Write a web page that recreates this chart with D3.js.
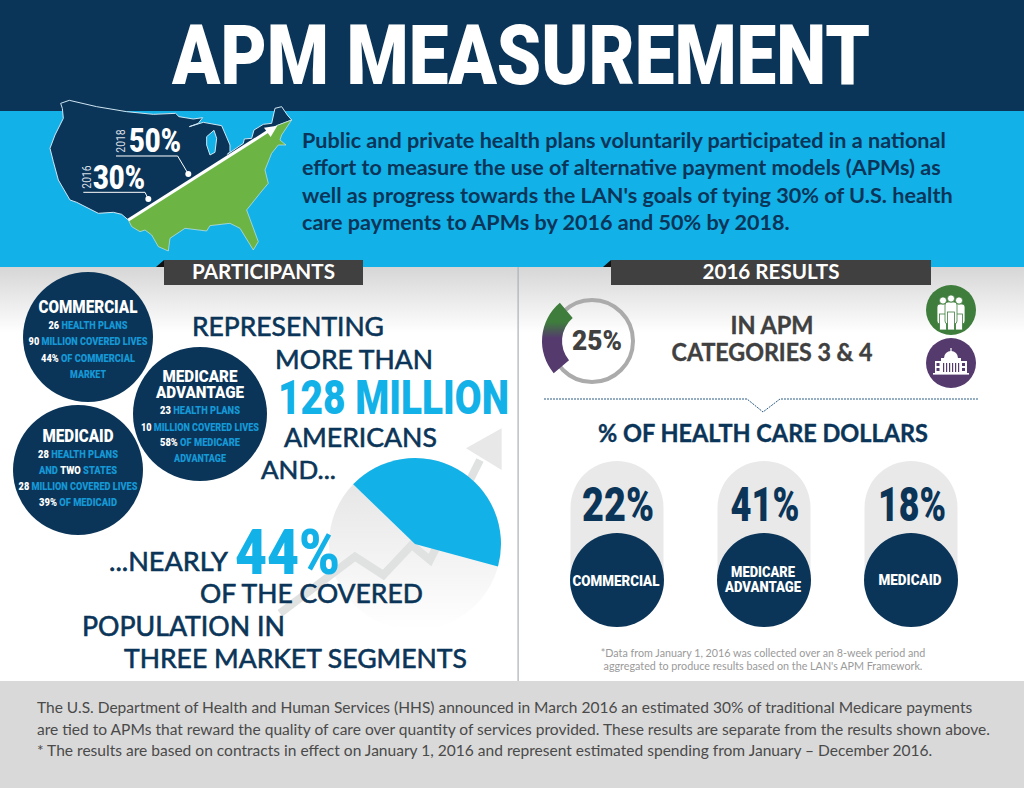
<!DOCTYPE html>
<html>

<head>
    <meta charset="utf-8">
    <style>
        body {
            margin: 0;
            background: #fff;
        }

        svg {
            display: block;
        }
    </style>
</head>

<body>
    <svg width="1024" height="788"></svg>
</body>

<script src="https://d3js.org/d3.v7.min.js"></script>

<script>
    // values
    let segments = ["COMMERCIAL", "MEDICARE ADVANTAGE", "MEDICAID"];
    let dollarShares = [22, 41, 18];
    let coveredLabel = 44;
    let pieShares = [42, 58]; // the slice as drawn is a bit smaller than its label
    let apmShare = [25, 75];
    let goalYears = ["2016", "2018"];
    let goalValues = [30, 50];

    let introLines = [
        "Public and private health plans voluntarily participated in a national",
        "effort to measure the use of alternative payment models (APMs) as",
        "well as progress towards the LAN's goals of tying 30% of U.S. health",
        "care payments to APMs by 2016 and 50% by 2018."
    ];
    let footerLines = [
        "The U.S. Department of Health and Human Services (HHS) announced in March 2016 an estimated 30% of traditional Medicare payments",
        "are tied to APMs that reward the quality of care over quantity of services provided. These results are separate from the results shown above.",
        "* The results are based on contracts in effect on January 1, 2016 and represent estimated spending from January – December 2016."
    ];
    let footnoteLines = [
        "*Data from January 1, 2016 was collected over an 8-week period and",
        "aggregated to produce results based on the LAN's APM Framework."
    ];
    let commercialLines = [["26", " HEALTH PLANS"], ["90", " MILLION COVERED LIVES"], ["44%", " OF COMMERCIAL"], ["", "MARKET"]];
    let medicareLines = [["23", " HEALTH PLANS"], ["10", " MILLION COVERED LIVES"], ["58%", " OF MEDICARE"], ["", "ADVANTAGE"]];
    let medicaidLines = [["28", " HEALTH PLANS"], ["", "AND ", "TWO", " STATES"], ["28", " MILLION COVERED LIVES"], ["39%", " OF MEDICAID"]];

    let navy = "#0b3558";
    let sky = "#12b1e8";
    let cond = "Roboto, sans-serif";
    let lato = "Lato, sans-serif";

    let svg = d3.select("svg");
    let defs = svg.append("defs");

    //squeeze or stretch a text to the width it has in the reference
    function label(parent, parts, x, y, size, opts) {
        let o = Object.assign({ family: cond, weight: 900, anchor: "middle", fill: navy, heavy: 0 }, opts);
        let t = parent.append("text")
            .attr("text-anchor", o.anchor)
            .style("font-family", o.family)
            .style("font-weight", o.weight)
            .style("font-size", size + "px");
        if (typeof parts == "string") parts = [[parts, o.fill]];
        parts.forEach(function (p) {
            t.append("tspan").attr("fill", p[1]).text(p[0]);
        });
        t.style("white-space", "pre");
        if (o.heavy) t.attr("stroke", o.fill).attr("stroke-width", o.heavy);
        let sx = o.width ? o.width / t.node().getComputedTextLength() : 1;
        t.attr("transform", `translate(${x},${y}) scale(${sx},1)`);
        return t;
    }

    function band(x, y, w, h, fill) {
        return svg.append("rect").attr("x", x).attr("y", y).attr("width", w).attr("height", h).attr("fill", fill);
    }

    //backgrounds
    let fade = defs.append("linearGradient").attr("id", "fade").attr("x1", 0).attr("x2", 0).attr("y1", 0).attr("y2", 1);
    fade.append("stop").attr("offset", 0).attr("stop-color", "#d6d6d6");
    fade.append("stop").attr("offset", 1).attr("stop-color", "#fff");

    band(0, 0, 1024, 111, navy);
    band(0, 111, 1024, 157, sky);
    band(0, 267, 1024, 66, "url(#fade)");
    band(0, 681, 1024, 107, "#d9d9d9");
    band(517.5, 267, 1.2, 414, "#a9b2ba");

    label(svg, "APM MEASUREMENT", 521, 84, 84, { width: 698, fill: "#fff" });

    //the map is only an illustration, outline traced in zoomed pixels
    let upperOutline = [[92, 25], [118, 16], [200, 35], [290, 50], [370, 58], [437, 55], [447, 65], [490, 72], [518, 68], [505, 85], [478, 95], [520, 82], [575, 92], [582, 108], [600, 150], [600, 170], [592, 178], [640, 145], [643, 132], [665, 130], [672, 105], [700, 88], [725, 85], [735, 40], [755, 35], [772, 60], [785, 75], [740, 92], [295, 375], [275, 358], [250, 352], [205, 355], [140, 322], [120, 315], [85, 255], [70, 200], [60, 160], [75, 120], [100, 70], [97, 40]];
    let lowerOutline = [[740, 92], [785, 75], [755, 120], [750, 135], [768, 150], [745, 150], [725, 175], [705, 225], [715, 265], [690, 295], [650, 345], [685, 440], [670, 465], [630, 400], [600, 385], [540, 392], [530, 408], [465, 400], [420, 430], [415, 468], [385, 455], [365, 420], [345, 405], [330, 410], [305, 395], [295, 375]];
    let lakeOutline = [[530, 125], [552, 106], [560, 130], [555, 172], [540, 180], [530, 150]];

    let closed = d3.line().curve(d3.curveLinearClosed);
    let map = svg.append("g").attr("transform", "translate(30,95) scale(0.3333)");

    map.append("path").attr("d", closed(upperOutline)).attr("fill", navy).attr("stroke", "#cfe6f2").attr("stroke-width", 3);
    map.append("path").attr("d", closed(lakeOutline)).attr("fill", sky).attr("stroke", "#cfe6f2").attr("stroke-width", 3);
    map.append("path").attr("d", closed(lowerOutline)).attr("fill", "#6cb545").attr("stroke", "#cfe6f2").attr("stroke-width", 2);
    map.append("path").attr("d", d3.line()([[295, 375], [728, 100]])).attr("stroke", "#fff").attr("stroke-width", 9);
    map.append("path").attr("d", closed([[742, 92], [702, 98], [722, 126]])).attr("fill", "#fff");

    let calloutPaths = [[[160, 292], [345, 292], [355, 312]], [[258, 183], [443, 183], [475, 237]]];
    calloutPaths.forEach(function (c) {
        map.append("path").attr("d", d3.line()(c)).attr("fill", "none").attr("stroke", "#fff").attr("stroke-width", 3);
        map.append("circle").attr("cx", c[2][0]).attr("cy", c[2][1]).attr("r", 9).attr("fill", "#fff");
    });

    label(svg, goalValues[0] + "%", 119, 189, 33, { width: 52, fill: "#fff" });
    label(svg, goalValues[1] + "%", 155, 152, 34, { width: 52, fill: "#fff" });
    label(svg, goalYears[0], 0, 0, 13, { fill: "#d9dee3", weight: 400 })
        .attr("transform", "translate(91,177) rotate(-90) scale(0.8,1)");
    label(svg, goalYears[1], 0, 0, 13, { fill: "#d9dee3", weight: 400 })
        .attr("transform", "translate(125,141) rotate(-90) scale(0.8,1)");

    let introWidths = [644, 639, 651, 488];
    let introBase = [148, 175, 203, 230];
    introLines.forEach(function (l, i) {
        label(svg, l, 302, introBase[i], 20, { family: lato, weight: 700, anchor: "start", width: introWidths[i] });
    });

    //ribbons
    function ribbon(x, w, text, tw) {
        svg.append("path").attr("d", d3.line()([[x - 8, 267], [x, 260], [x, 267]])).attr("fill", "#111");
        band(x, 260, w, 25, "#404040");
        label(svg, text, x + w / 2, 279, 20, { family: lato, weight: 700, fill: "#fff", width: tw });
    }
    ribbon(164, 199, "PARTICIPANTS", 143);
    ribbon(611, 320, "2016 RESULTS", 137);

    //participant circles
    function bubble(cx, cy, r, title, titleSize, titleBase, titleWidths, lines, base, widths) {
        svg.append("circle").attr("cx", cx).attr("cy", cy).attr("r", r).attr("fill", navy);
        title.forEach(function (t, i) {
            label(svg, t, cx, titleBase[i], titleSize, { fill: "#fff", width: titleWidths[i] });
        });
        lines.forEach(function (l, i) {
            let parts = l.map(function (s, k) {
                return [s, k % 2 == 0 ? "#fff" : "#1598d6"];
            });
            //a line that starts with an empty string starts in blue
            if (l[0] === "") parts = l.slice(1).map(function (s, k) {
                return [s, k % 2 == 0 ? "#1598d6" : "#fff"];
            });
            label(svg, parts, cx, base[i], 11.5, { width: widths[i] });
        });
    }

    bubble(88, 337, 65, ["COMMERCIAL"], 18, [313], [99], commercialLines, [329, 345, 362, 378], [79, 119, 94, 36]);
    bubble(78, 470, 65, ["MEDICAID"], 18, [442], [71], medicaidLines, [458, 474, 490, 506], [80, 78, 119, 78]);
    bubble(200, 414, 67, ["MEDICARE", "ADVANTAGE"], 16.5, [382, 398], [75, 88], medicareLines, [414, 431, 446, 462], [80, 118, 80, 52]);

    //pie behind the text, drawn before the words
    let pieFade = defs.append("linearGradient").attr("id", "pieFade").attr("x1", 0).attr("x2", 0).attr("y1", 0).attr("y2", 1);
    pieFade.append("stop").attr("offset", 0).attr("stop-color", "#e2e2e2");
    pieFade.append("stop").attr("offset", 1).attr("stop-color", "#fff");

    let pieGroup = svg.append("g").attr("transform", "translate(415,544)");
    pieGroup.append("circle").attr("r", 86).attr("fill", "url(#pieFade)");

    //zigzag growth arrow, zoomed pixels again
    let trend = [[60, 640], [285, 470], [370, 525], [455, 435], [510, 480], [660, 180]];
    let trendGroup = svg.append("g").attr("transform", "translate(260,400) scale(0.3333)");
    trendGroup.append("path").attr("d", d3.line()(trend)).attr("fill", "none").attr("stroke", "#e0e1e1").attr("stroke-width", 24);
    trendGroup.append("path").attr("d", closed([[725, 85], [618, 145], [725, 210]])).attr("fill", "#e8e8e8");

    let pie = d3.pie().sort(null).startAngle(-46 * Math.PI / 180).endAngle(314 * Math.PI / 180);
    let pieArc = d3.arc().innerRadius(0).outerRadius(86);
    svg.append("g").attr("transform", "translate(415,544)")
        .append("path")
        .attr("d", pieArc(pie(pieShares)[0]))
        .attr("fill", sky);

    let leftWords = [
        ["REPRESENTING", 192, 336, 192],
        ["MORE THAN", 275, 369, 158],
        ["AMERICANS", 284, 447, 153],
        ["AND...", 261, 479, 75],
        ["...NEARLY", 109, 571, 119],
        ["OF THE COVERED", 200, 603, 223],
        ["POPULATION IN", 82, 636, 203],
        ["THREE MARKET SEGMENTS", 124, 668, 343]
    ];
    leftWords.forEach(function (w) {
        label(svg, w[0], w[1], w[2], 26, { family: lato, weight: 400, heavy: .6, anchor: "start", width: w[3] });
    });
    label(svg, "128 MILLION", 278, 414, 48, { anchor: "start", width: 231, fill: sky });
    label(svg, coveredLabel + "%", 235, 574, 62, { anchor: "start", width: 105, fill: sky });

    //25% ring
    let ringGrad = defs.append("linearGradient").attr("id", "ringGrad")
        .attr("gradientUnits", "userSpaceOnUse").attr("x1", 0).attr("x2", 0).attr("y1", -39).attr("y2", 33);
    ringGrad.append("stop").attr("offset", .28).attr("stop-color", "#3e7d3c");
    ringGrad.append("stop").attr("offset", .5).attr("stop-color", "#553a6e");

    svg.append("circle").attr("cx", 592).attr("cy", 341).attr("r", 41).attr("fill", "none").attr("stroke", "#ababab").attr("stroke-width", 4);

    let ringPie = d3.pie().sort(null).startAngle(-130 * Math.PI / 180).endAngle(230 * Math.PI / 180);
    let ringArc = d3.arc().innerRadius(30).outerRadius(50);
    svg.append("g").attr("transform", "translate(592,341)")
        .append("path")
        .attr("d", ringArc(ringPie(apmShare)[0]))
        .attr("fill", "url(#ringGrad)");

    label(svg, apmShare[0] + "%", 597, 350, 28, { width: 50, fill: "#404040" });
    label(svg, "IN APM", 772, 334, 24, { family: lato, weight: 700, heavy: .4, width: 83, fill: "#404040" });
    label(svg, "CATEGORIES 3 & 4", 772, 361, 24, { family: lato, weight: 700, heavy: .4, width: 201, fill: "#404040" });

    //people icon
    svg.append("circle").attr("cx", 951).attr("cy", 310).attr("r", 25).attr("fill", "#3e7d3c");
    let people = svg.append("g").attr("fill", "#fff").attr("stroke", "#3e7d3c").attr("stroke-width", .8);
    [[943, 12], [959, 12], [951, 14]].forEach(function (p) {
        let top = 298 + (p[1] == 14 ? -2 : 0);
        people.append("rect").attr("x", p[0] - 6).attr("y", top + 6).attr("width", 12).attr("height", p[1] + 8).attr("rx", 3);
        people.append("rect").attr("x", p[0] - 3.5).attr("y", top + 16).attr("width", 7).attr("height", p[1] + 4);
        people.append("circle").attr("cx", p[0]).attr("cy", top + 2.5).attr("r", 3.6);
    });

    //capitol icon
    svg.append("circle").attr("cx", 951).attr("cy", 363).attr("r", 25).attr("fill", "#553a6e");
    let capitol = svg.append("g").attr("fill", "#fff");
    capitol.append("rect").attr("x", 935).attr("y", 361).attr("width", 32).attr("height", 12);
    capitol.append("rect").attr("x", 933).attr("y", 373).attr("width", 36).attr("height", 1.6);
    capitol.append("path").attr("d", d3.arc().innerRadius(0).outerRadius(7).startAngle(-Math.PI / 2).endAngle(Math.PI / 2)()).attr("transform", "translate(951,358)");
    capitol.append("rect").attr("x", 950.4).attr("y", 348).attr("width", 1.2).attr("height", 4);
    capitol.append("rect").attr("x", 941).attr("y", 358).attr("width", 20).attr("height", 3);
    d3.range(943, 961, 3).forEach(function (x) {
        svg.append("rect").attr("x", x).attr("y", 363).attr("width", 1.2).attr("height", 9).attr("fill", "#553a6e");
    });
    [[936.5, 363], [936.5, 368], [962, 363], [962, 368]].forEach(function (p) {
        svg.append("rect").attr("x", p[0]).attr("y", p[1]).attr("width", 3).attr("height", 3).attr("fill", "#553a6e");
    });

    //dotted separator with the small notch
    svg.append("path")
        .attr("d", d3.line()([[544, 399], [747, 399], [763, 412], [780, 399], [978, 399]]))
        .attr("fill", "none")
        .attr("stroke", "#2a5b85")
        .attr("stroke-width", 1)
        .attr("stroke-dasharray", "2,1");

    label(svg, "% OF HEALTH CARE DOLLARS", 763, 442, 25, { family: lato, weight: 700, heavy: .4, width: 330 });

    //the three segment pills
    let px = d3.scalePoint().domain(segments).range([617, 911]);
    let segmentLabels = [["COMMERCIAL"], ["MEDICARE", "ADVANTAGE"], ["MEDICAID"]];
    let segmentBase = [[586], [577, 592], [585]];
    let segmentWidths = [[87], [64, 76], [63]];
    let percentWidths = [72, 69, 68];

    segments.forEach(function (s, i) {
        let x = px(s);
        svg.append("rect").attr("x", x - 46.5).attr("y", 461).attr("width", 93).attr("height", 160).attr("rx", 46.5).attr("fill", "#e9e9e9");
        svg.append("circle").attr("cx", x).attr("cy", 580).attr("r", 47).attr("fill", navy);
        label(svg, dollarShares[i] + "%", x + 1, 521, 48, { width: percentWidths[i] });
        segmentLabels[i].forEach(function (t, k) {
            label(svg, t, x - 1, segmentBase[i][k], 14.5, { width: segmentWidths[i][k], fill: "#fff" });
        });
    });

    let noteWidths = [325, 319];
    footnoteLines.forEach(function (l, i) {
        label(svg, l, 763, 657 + i * 13, 10.5, { family: lato, weight: 400, width: noteWidths[i], fill: "#9a9a9a" });
    });

    let footWidths = [935, 953, 895];
    let footBase = [713, 735, 756];
    footerLines.forEach(function (l, i) {
        label(svg, l, 37, footBase[i], 14.4, { family: lato, weight: 400, anchor: "start", width: footWidths[i], fill: "#4a4a4a" });
    });
</script>

</html>
